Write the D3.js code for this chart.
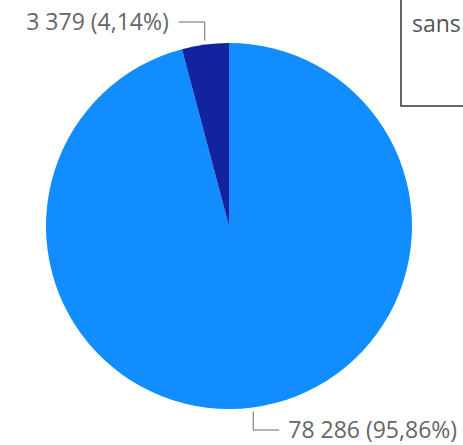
<!DOCTYPE html>
<html><head><meta charset="utf-8">
<script src="https://cdn.jsdelivr.net/npm/d3@7"></script>
<style>body{margin:0;background:#fff;}svg{display:block;}</style>
</head><body>
<svg id="c" width="463" height="445"></svg>
<script>
const categories = ["A", "B"];
const values = [78286, 3379];
const labels = ["78 286 (95,86%)", "3 379 (4,14%)"];
const colors = ["#118DFF", "#12239E"];
const legendText = "sans";

const svg = d3.select("#c");
const cx = 229, cy = 226, r = 183;
const pie = d3.pie().sort(null)(values);
const arc = d3.arc().innerRadius(0).outerRadius(r);
const g = svg.append("g").attr("transform", `translate(${cx},${cy})`);
g.selectAll("path").data(pie).enter().append("path")
  .attr("d", arc).attr("fill", (d,i)=>colors[i]);

const font = "'Open Sans','Segoe UI',sans-serif";
const fs = 23;
const lineCol = "#666", textCol = "#666";
function midPoint(d, off) {
  const a = (d.startAngle + d.endAngle) / 2;
  return [cx + (r + off) * Math.sin(a), cy - (r + off) * Math.cos(a)];
}
// small slice label (upper)
{
  const [x0, y0] = midPoint(pie[1], 4);
  const yH = 22;
  svg.append("path").attr("d", `M${x0},${y0}V${yH}H${x0-26}`)
    .attr("fill","none").attr("stroke",lineCol).attr("stroke-width",1);
  svg.append("text").attr("x", x0-36).attr("y", yH).attr("dy","0.35em")
    .attr("text-anchor","end").attr("font-family",font).attr("font-size",fs)
    .attr("fill",textCol).text(labels[1]);
}
{
  const [x0, y0] = midPoint(pie[0], 4);
  const yH = 430;
  svg.append("path").attr("d", `M${x0},${y0}V${yH}H${x0+26}`)
    .attr("fill","none").attr("stroke",lineCol).attr("stroke-width",1);
  svg.append("text").attr("x", x0+35).attr("y", yH).attr("dy","0.35em")
    .attr("text-anchor","start").attr("font-family",font).attr("font-size",fs)
    .attr("fill",textCol).text(labels[0]);
}
// legend box
svg.append("rect").attr("x",401).attr("y",-5).attr("width",100).attr("height",111)
  .attr("fill","#fff").attr("stroke","#333").attr("stroke-width",1.5);
svg.append("text").attr("x",412).attr("y",24).attr("dy","0.35em")
  .attr("font-family",font).attr("font-size",fs).attr("fill","#555").text(legendText);
</script>
</body></html>
